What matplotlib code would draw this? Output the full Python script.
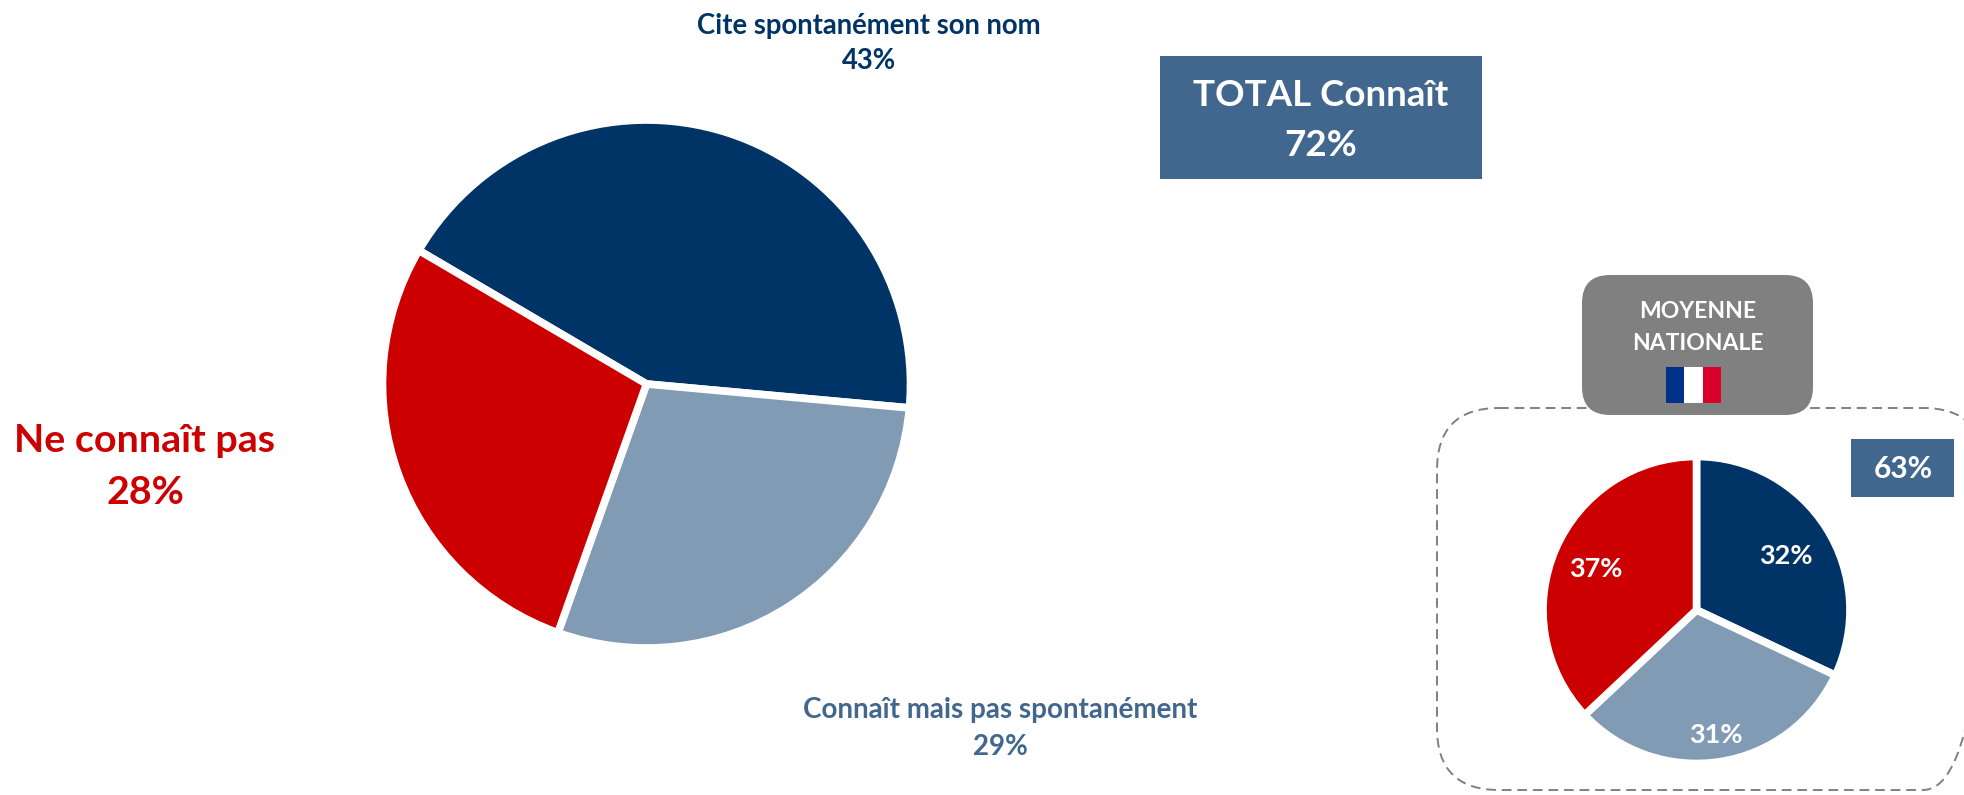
import matplotlib
matplotlib.use("Agg")
import matplotlib.pyplot as plt
from matplotlib.patches import FancyBboxPatch, Rectangle

# values
main_labels = ["Cite spontanément son nom", "Connaît mais pas spontanément", "Ne connaît pas"]
main_values = [43, 29, 28]
national_values = [32, 31, 37]
total_label = "TOTAL Connaît"
total_value = 72
national_total = 63
national_title = "MOYENNE\nNATIONALE"

DARK = "#003366"
LIGHT = "#829BB4"
RED = "#CC0000"
STEEL = "#41678F"
GREY = "#808080"
FONT = "Lato"
W, H = 1965, 795

plt.rcParams["font.family"] = FONT
plt.rcParams["font.weight"] = "bold"

fig = plt.figure(figsize=(W / 100, H / 100), dpi=100, facecolor="white")

# background axes in picture pixels, used for boxes and text
bg = fig.add_axes([0, 0, 1, 1])
bg.set_xlim(0, W)
bg.set_ylim(H, 0)
bg.axis("off")


def add_pie(cx, cy, r, values, start):
    ax = fig.add_axes([(cx - r) / W, 1 - (cy + r) / H, 2 * r / W, 2 * r / H], zorder=2)
    ax.pie(values, colors=[DARK, LIGHT, RED], startangle=start, counterclock=False,
           wedgeprops={"edgecolor": "white", "linewidth": 5.5})
    ax.set_xlim(-1, 1)
    ax.set_ylim(-1, 1)
    return ax


add_pie(646.5, 384, 264, main_values, 149.6)
add_pie(1696.5, 610, 153.5, national_values, 90)

# dashed frame around the national pie
bg.add_patch(FancyBboxPatch((1437, 408), 548, 382, boxstyle="round,pad=0,rounding_size=62",
                            facecolor="none", edgecolor=GREY, linewidth=1.4, linestyle=(0, (5, 3)),
                            mutation_aspect=1, zorder=1))
bg.add_patch(FancyBboxPatch((1582, 275), 231, 140, boxstyle="round,pad=0,rounding_size=28",
                            facecolor=GREY, edgecolor="none", zorder=2))

# flag
for i, c in enumerate(["#003189", "white", "#D9002B"]):
    bg.add_patch(Rectangle((1666 + i * 18.3, 367), 18.3, 36, facecolor=c, edgecolor="none", zorder=3))

bg.add_patch(Rectangle((1160, 56), 322, 123, facecolor=STEEL, edgecolor="none"))
bg.add_patch(Rectangle((1851, 439), 103, 58, facecolor=STEEL, edgecolor="none"))


def label(x, y, s, color, size, ax=bg, zorder=5):
    ax.text(x, y, s, color=color, fontsize=size, ha="center", va="center", zorder=zorder,
            transform=bg.transData, clip_on=False)


label(869, 26, main_labels[0], DARK, 19.8)
label(869, 61, f"{main_values[0]}%", DARK, 19.8)
label(1000, 710, main_labels[1], STEEL, 20)
label(1000, 747, f"{main_values[1]}%", STEEL, 20)
label(145, 441, main_labels[2], RED, 28.4)
label(145, 493, f"{main_values[2]}%", RED, 28.4)

label(1321, 96, total_label, "white", 26.5)
label(1321, 146, f"{total_value}%", "white", 26.5)

title_lines = national_title.split("\n")
label(1698, 312, title_lines[0], "white", 16.5)
label(1698, 344, title_lines[1], "white", 16.5)
label(1903, 469, f"{national_total}%", "white", 21.5)

# labels of the small pie sit above its axes
top = fig.add_axes([0, 0, 1, 1], zorder=3)
top.set_xlim(0, W)
top.set_ylim(H, 0)
top.axis("off")
label(1786, 556, f"{national_values[0]}%", "white", 19.5, ax=top)
label(1716, 735, f"{national_values[1]}%", "white", 19.5, ax=top)
label(1596, 569, f"{national_values[2]}%", "white", 19.5, ax=top)

fig.savefig("out.png", dpi=100, facecolor="white")
